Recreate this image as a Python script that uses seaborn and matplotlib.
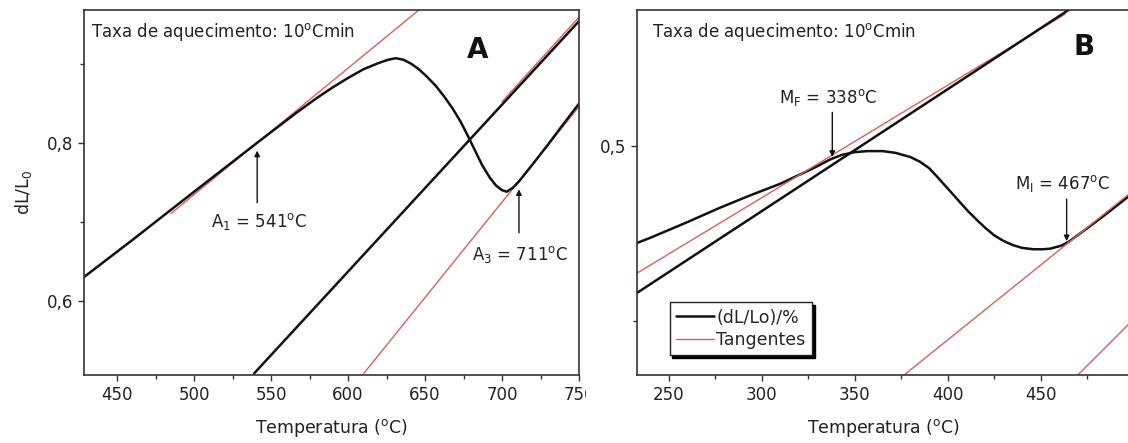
import numpy as np
import pandas as pd
import seaborn as sns
import matplotlib.pyplot as plt
from matplotlib.transforms import Bbox, TransformedBbox

sns.set_style("ticks")
plt.rcParams['font.family'] = ['DejaVu Sans']
plt.rcParams['mathtext.default'] = 'regular'

# ---- painel A (aquecimento) ----
a_temp = [428.5, 460, 500, 541, 566.5, 580, 590, 600, 610, 620, 626, 631, 636, 641, 646, 651,
          657, 663, 668, 673, 678, 682, 687, 692, 696, 700, 703, 707, 711, 720, 730, 740, 751]
a_dl = [0.630, 0.677, 0.738, 0.800, 0.838, 0.857, 0.870, 0.882, 0.893, 0.901, 0.905, 0.907, 0.905, 0.900, 0.893, 0.884,
        0.872, 0.857, 0.843, 0.827, 0.808, 0.792, 0.772, 0.756, 0.746, 0.740, 0.738, 0.743, 0.751, 0.773, 0.798, 0.824, 0.852]
a_line_temp = [539, 751]
a_line_dl = [0.508, 0.956]
a_tan1_temp = [485, 650]
a_tan1_dl = [0.7104, 0.9744]
a_tan2_temp = [610.2, 751]
a_tan2_dl = [0.508, 0.848]
a_tan3_temp = [700, 751]
a_tan3_dl = [0.852, 0.961]
a_points = [541, 711]
a_names = ['A$_1$ = 541$^o$C', 'A$_3$ = 711$^o$C']

# ---- painel B (resfriamento) ----
b_temp = [233, 240, 250, 260, 277, 293, 310, 328, 337, 343, 350, 357, 365, 372, 380, 385, 390, 394, 398,
          402, 407, 411, 416, 420, 425, 430, 435, 440, 446, 451, 455, 461, 465, 475, 485, 497, 502]
b_dl = [0.4446, 0.4475, 0.452, 0.4565, 0.4645, 0.4715, 0.4785, 0.4875, 0.4925, 0.495, 0.4966, 0.4972, 0.4972, 0.4962, 0.4938, 0.4912, 0.4875, 0.4830, 0.4782,
        0.4735, 0.4675, 0.4628, 0.4575, 0.4535, 0.4490, 0.4458, 0.4434, 0.4418, 0.4410, 0.4410, 0.4413, 0.4430, 0.4452, 0.453, 0.461, 0.471, 0.475]
b_line_temp = [233, 470]
b_line_dl = [0.416, 0.5815]
b_tan1_temp = [233, 463]
b_tan1_dl = [0.4273, 0.5755]
b_tan2_temp = [376.6, 502]
b_tan2_dl = [0.369, 0.4765]
b_tan3_temp = [470, 502]
b_tan3_dl = [0.369, 0.403]
b_points = [338, 464]
b_names = ['M$_F$ = 338$^o$C', 'M$_I$ = 467$^o$C']

RED = '#d9605c'
INK = '#111111'
TXT = '#222222'

fig = plt.figure(figsize=(11.28, 4.43), dpi=100)
axA = fig.add_axes([84 / 1128, 1 - 375 / 443, 495 / 1128, 365 / 443])
axB = fig.add_axes([637 / 1128, 1 - 375 / 443, 494 / 1128, 365 / 443])

def draw(ax, x, y, color, lw, label=None):
    sns.lineplot(x=x, y=y, ax=ax, color=color, lw=lw, label=label, sort=False, estimator=None)

draw(axA, a_tan1_temp, a_tan1_dl, RED, 1.0)
draw(axA, a_tan2_temp, a_tan2_dl, RED, 1.0)
draw(axA, a_tan3_temp, a_tan3_dl, RED, 1.0)
draw(axA, a_temp, a_dl, INK, 1.8)
draw(axA, a_line_temp, a_line_dl, INK, 1.8)

draw(axB, b_temp, b_dl, INK, 1.8, '(dL/Lo)/%')
draw(axB, b_tan1_temp, b_tan1_dl, RED, 1.0, 'Tangentes')
draw(axB, b_line_temp, b_line_dl, INK, 1.8)
draw(axB, b_tan2_temp, b_tan2_dl, RED, 1.0)
draw(axB, b_tan3_temp, b_tan3_dl, RED, 1.0)

axA.set_xlim(428.5, 750)
axA.set_ylim(0.506, 0.968)
axB.set_xlim(233, 498.6)
axB.set_ylim(0.369, 0.578)

axA.set_xticks(np.arange(450, 751, 50))
axA.set_xticks(np.arange(475, 751, 50), minor=True)
axA.set_yticks([0.6, 0.8])
axA.set_yticklabels(['0,6', '0,8'])
axA.set_yticks([0.7, 0.9], minor=True)
axB.set_xticks(np.arange(250, 451, 50))
axB.set_xticks(np.arange(275, 476, 50), minor=True)
axB.set_yticks([0.5])
axB.set_yticklabels(['0,5'])
axB.set_yticks([0.4], minor=True)

for ax in (axA, axB):
    for s in ax.spines.values():
        s.set_visible(True)
        s.set_color('#333333')
        s.set_linewidth(1.2)
    ax.tick_params(which='both', direction='out', color='#333333', width=1, labelsize=12,
                   labelcolor=TXT, pad=4)
    ax.tick_params(which='major', length=4)
    ax.tick_params(which='minor', length=3)
    ax.set_xlabel('Temperatura ($^o$C)', fontsize=12.5, color=TXT, labelpad=9)
    ax.set_ylabel('')
    ax.text(0.014 if ax is axA else 0.03, 0.94, 'Taxa de aquecimento: 10$^o$Cmin',
            transform=ax.transAxes, fontsize=12, color=TXT, va='center')

axA.set_ylabel('dL/L$_0$', fontsize=12.5, color=TXT, labelpad=9)
axA.text(0.796, 0.89, 'A', transform=axA.transAxes, fontsize=20, fontweight='bold',
         ha='center', va='center', color=INK)
axB.text(0.904, 0.899, 'B', transform=axB.transAxes, fontsize=20, fontweight='bold',
         ha='center', va='center', color=INK)

# último rótulo do eixo A cortado como na figura original
fig.canvas.draw()
clip = TransformedBbox(Bbox([[0, 0], [586 / 1128, 1]]), fig.transFigure)
for lab in axA.get_xticklabels():
    lab.set_clip_on(True)
    lab.set_clip_box(clip)

arrow = dict(arrowstyle='-|>', color=INK, lw=1.0, mutation_scale=8, shrinkA=0, shrinkB=0)

# setas do painel A (abaixo da curva, apontando para cima)
for t, name, dy_txt, tail in zip(a_points, a_names, [0.700, 0.658], [0.724, 0.686]):
    yc = np.interp(t, a_temp, a_dl)
    axA.annotate('', xy=(t, yc - 0.01), xytext=(t, tail), arrowprops=arrow)
    axA.text(t + 1, dy_txt, name, fontsize=12, ha='center', va='center', color=TXT)

# setas do painel B (acima da curva, apontando para baixo)
for t, name, txt_y, tail in zip(b_points, b_names, [0.528, 0.4789], [0.5194, 0.4697]):
    yc = np.interp(t, b_temp, b_dl)
    axB.annotate('', xy=(t, yc + 0.001), xytext=(t, tail), arrowprops=arrow)
    axB.text(t - 2, txt_y, name, fontsize=12, ha='center', va='center', color=TXT)

leg = axB.legend(loc='lower left', bbox_to_anchor=(0.066, 0.055), borderaxespad=0,
                 frameon=True, fancybox=False, shadow={'color': 'black', 'alpha': 1},
                 edgecolor='#222222', fontsize=12.5, handlelength=2.2, handletextpad=0.15,
                 borderpad=0.35, labelspacing=0.25)
leg.get_frame().set_linewidth(1.0)

fig.savefig('out.png', dpi=100)
